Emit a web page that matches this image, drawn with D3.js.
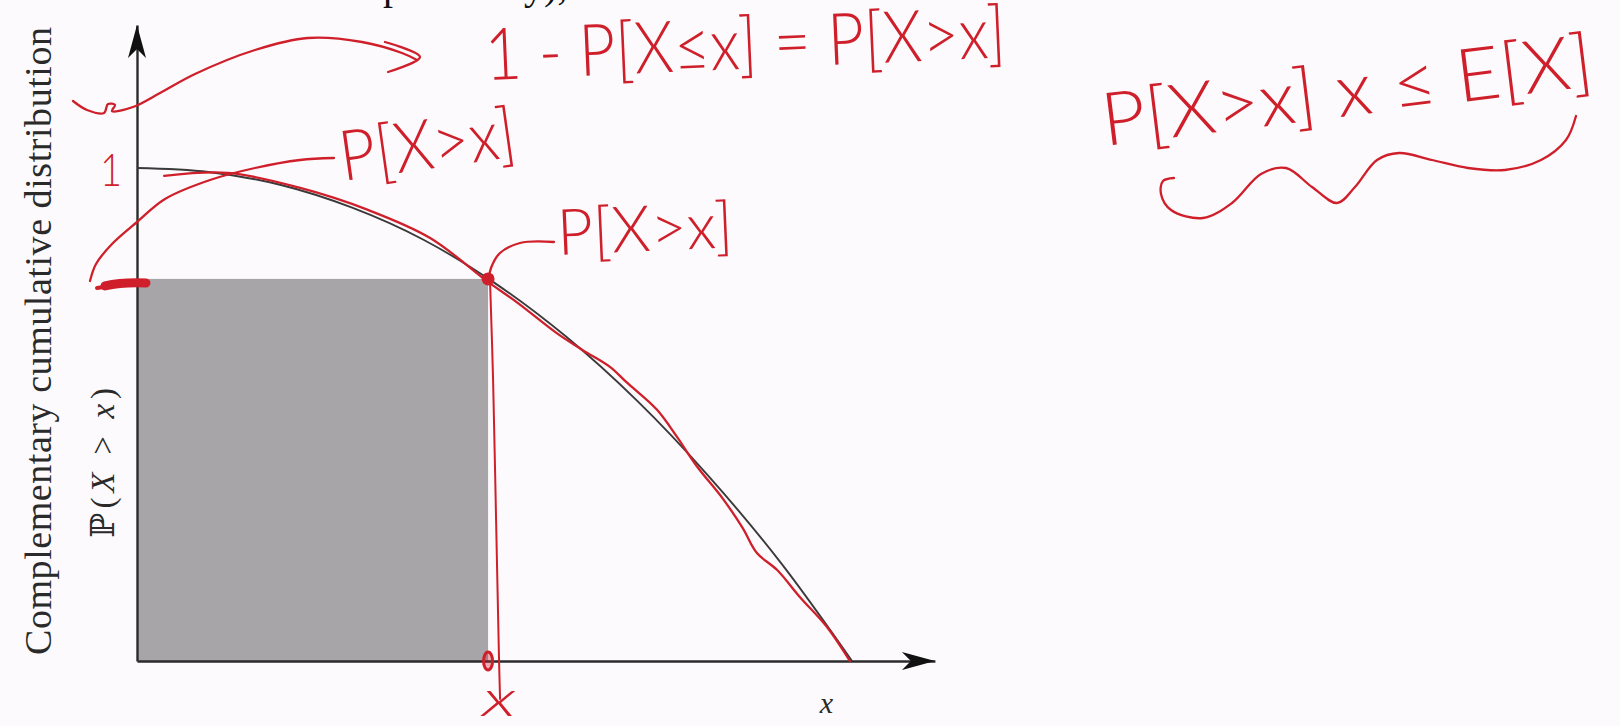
<!DOCTYPE html>
<html><head><meta charset="utf-8">
<script src="https://cdn.jsdelivr.net/npm/d3@7"></script>
<style>
html,body{margin:0;padding:0;background:#fcfafc;}
svg{display:block;}
.hand{font-family:"Lato","Open Sans",sans-serif;font-weight:300;fill:#cf1f2b;}
</style></head>
<body>
<svg id="chart" width="1620" height="726"></svg>
<script>
// ---- data (unit square: x in [0,1], P(X>x) in [0,1]) ----
const ccdfX = [0, 0.1, 0.2, 0.3, 0.4, 0.5, 0.6, 0.7, 0.8, 0.9, 1.0];
const ccdfY = [1.0, 0.992, 0.966, 0.920, 0.855, 0.767, 0.658, 0.527, 0.374, 0.200, 0.0];
const sketchX = [0.038, 0.127, 0.227, 0.323, 0.410, 0.491, 0.531, 0.587, 0.624, 0.661, 0.685, 0.727, 0.755, 0.783, 0.819, 0.847, 0.867, 0.895, 0.927, 0.965, 0.997];
const sketchY = [0.984, 0.990, 0.960, 0.915, 0.858, 0.769, 0.728, 0.665, 0.630, 0.597, 0.565, 0.510, 0.455, 0.395, 0.330, 0.270, 0.219, 0.185, 0.130, 0.069, 0.0];
const markX = [0.491];           // chosen x
const markY = [0.775];           // P[X > x] at that x
const axisMax = [1.116, 1.29];   // extent of the arrowed axes
const yTickLabels = ["1"];
const yTitle = "Complementary cumulative distribution";
const yLabel = ["\u2119(", "X", " > ", "x", ")"];
const xLabel = "x";
const notes = ["1 - P[X\u2264x]  =  P[X>x]", "P[X>x]", "P[X>x]", "P[X>x]  x  \u2264  E[X]", "x"];

const svg = d3.select("#chart");
const RED = "#cf1f2b", INK = "#2b2b2b";

const x = d3.scaleLinear().domain([0, 1]).range([137, 852]);
const y = d3.scaleLinear().domain([0, 1]).range([661, 168]);

// shaded rectangle
svg.append("rect")
  .attr("x", x(0)).attr("y", y(markY[0]))
  .attr("width", x(markX[0]) - x(0)).attr("height", y(0) - y(markY[0]))
  .attr("fill", "#a8a5a9");

// axes (no ticks) with stealth arrowheads
const xa = d3.scaleLinear().domain([0, axisMax[0]]).range([x(0), x(axisMax[0])]);
const ya = d3.scaleLinear().domain([0, axisMax[1]]).range([y(0), y(axisMax[1])]);
svg.append("g").attr("transform", `translate(0,${y(0)})`)
  .call(d3.axisBottom(xa).tickValues([]).tickSizeOuter(0))
  .call(g => g.select(".domain").attr("stroke", INK).attr("stroke-width", 2.4));
svg.append("g").attr("transform", `translate(${x(0)},0)`)
  .call(d3.axisLeft(ya).tickValues([]).tickSizeOuter(0))
  .call(g => g.select(".domain").attr("stroke", INK).attr("stroke-width", 2.4));
const arrow = "M0,0 L-33,-9 L-24,0 L-33,9 Z";
svg.append("path").attr("d", arrow).attr("fill", "#111")
  .attr("transform", `translate(${xa(axisMax[0])},${y(0)})`);
svg.append("path").attr("d", arrow).attr("fill", "#111")
  .attr("transform", `translate(${x(0)},${ya(axisMax[1])}) rotate(-90)`);

// CCDF curve
const line = d3.line().x(d => x(d[0])).y(d => y(d[1])).curve(d3.curveCatmullRom.alpha(0.5));
svg.append("path").datum(ccdfX.map((v, i) => [v, ccdfY[i]]))
  .attr("d", line).attr("fill", "none").attr("stroke", "#3a3a3a").attr("stroke-width", 1.9);

// hand-drawn red trace
svg.append("path").datum(sketchX.map((v, i) => [v, sketchY[i]]))
  .attr("d", line).attr("fill", "none").attr("stroke", RED).attr("stroke-width", 2.3)
  .attr("stroke-linejoin", "round").attr("stroke-linecap", "round");

// axis titles
svg.append("text").attr("transform", "translate(51,341) rotate(-90)")
  .attr("text-anchor", "middle").attr("font-family", "Liberation Serif, serif")
  .attr("font-size", 38).attr("fill", "#2a2a2a")
  .attr("textLength", 628).attr("lengthAdjust", "spacing").text(yTitle);
const yl = svg.append("text").attr("transform", "translate(114,463) rotate(-90)")
  .attr("text-anchor", "middle").attr("font-family", "Liberation Serif, DejaVu Serif, serif")
  .attr("font-size", 33).attr("fill", "#2a2a2a").attr("textLength", 150).attr("lengthAdjust", "spacing");
yLabel.forEach((s, i) => yl.append("tspan").attr("font-style", (i === 1 || i === 3) ? "italic" : "normal").text(s));
svg.append("text").attr("x", x(0.955)).attr("y", 713)
  .attr("font-family", "Liberation Serif, serif").attr("font-style", "italic")
  .attr("font-size", 30).attr("fill", "#2a2a2a").text(xLabel);

// cut-off text at the very top of the slide
svg.append("text").attr("x", 383).attr("y", -1).attr("font-family", "Liberation Serif, serif")
  .attr("font-size", 40).attr("fill", "#111").text("p");
svg.append("text").attr("x", 524).attr("y", -1).attr("font-family", "Liberation Serif, serif")
  .attr("font-size", 40).attr("fill", "#111").text("y),");

// ---- red annotations ----
const px = x(markX[0]), py = y(markY[0]);
const pen = d3.line().curve(d3.curveCatmullRom.alpha(0.5));
function stroke(pts, w) {
  svg.append("path").attr("d", pen(pts)).attr("fill", "none").attr("stroke", RED)
    .attr("stroke-width", w || 2.3).attr("stroke-linecap", "round").attr("stroke-linejoin", "round");
}
// vertical red line from the point down past the axis
stroke([[px + 2, py + 3], [px + 5, py + 100], [px + 8, py + 240], [px + 11, y(0)], [px + 12, y(0) + 38]], 2);
// ellipse on the x axis
svg.append("ellipse").attr("cx", px).attr("cy", y(0)).attr("rx", 4.5).attr("ry", 9)
  .attr("fill", "rgba(207,31,43,0.35)").attr("stroke", RED).attr("stroke-width", 3);
// point on the curve
svg.append("circle").attr("cx", px).attr("cy", py).attr("r", 6.5).attr("fill", RED);
// thick mark on the y axis at P[X>x]
svg.append("path").attr("d", `M${x(0) - 32},${py + 7} Q${x(0) - 15},${py + 3} ${x(0) + 9},${py + 4}`)
  .attr("fill", "none").attr("stroke", RED).attr("stroke-width", 9).attr("stroke-linecap", "round");
svg.append("path").attr("d", `M${x(0) - 40},${py + 9} L${x(0) - 26},${py + 7}`)
  .attr("fill", "none").attr("stroke", RED).attr("stroke-width", 4).attr("stroke-linecap", "round");

// curly arrow at top-left
stroke([[73, 101], [87, 110], [104, 113], [108, 104], [115, 105], [112, 111], [133, 107], [160, 93], [195, 74], [255, 50], [308, 38], [362, 42], [402, 53], [417, 60]]);
stroke([[385, 42], [420, 57], [388, 72]]);
// leader from first P[X>x] down to the y-axis mark
stroke([[334, 158], [300, 160], [255, 168], [210, 180], [165, 199], [137, 222], [112, 244], [96, 264], [90, 281]]);
// leader from second P[X>x] to the point
stroke([[554, 242], [520, 243], [500, 253], [491, 268], [489, 278]]);
// wiggly underbrace on the right
stroke([[1174, 178], [1163, 181], [1161, 194], [1171, 210], [1203, 218], [1232, 203], [1261, 174], [1286, 168], [1312, 187], [1337, 203], [1355, 187], [1377, 160], [1399, 153], [1432, 160], [1468, 168], [1505, 170], [1541, 160], [1566, 140], [1576, 116]]);

function note(txt, x0, y0, size, len, ang, style) {
  svg.append("text").attr("class", "hand").attr("x", x0).attr("y", y0)
    .attr("font-size", size).attr("textLength", len).attr("lengthAdjust", "spacingAndGlyphs")
    .attr("font-style", style || "normal")
    .attr("transform", `rotate(${ang},${x0},${y0})`).text(txt);
}
note(notes[0], 486, 80, 72, 521, -2.5);
note(notes[1], 343, 181, 70, 177, -8);
note(notes[2], 558, 255, 64, 176, -2.5);
note(notes[3], 1105, 146, 74, 494, -7);
note(yTickLabels[0], 100, 186, 46, 22, 0);
note(notes[4], 482, 716, 50, 34, 0, "italic");
</script>
</body></html>
